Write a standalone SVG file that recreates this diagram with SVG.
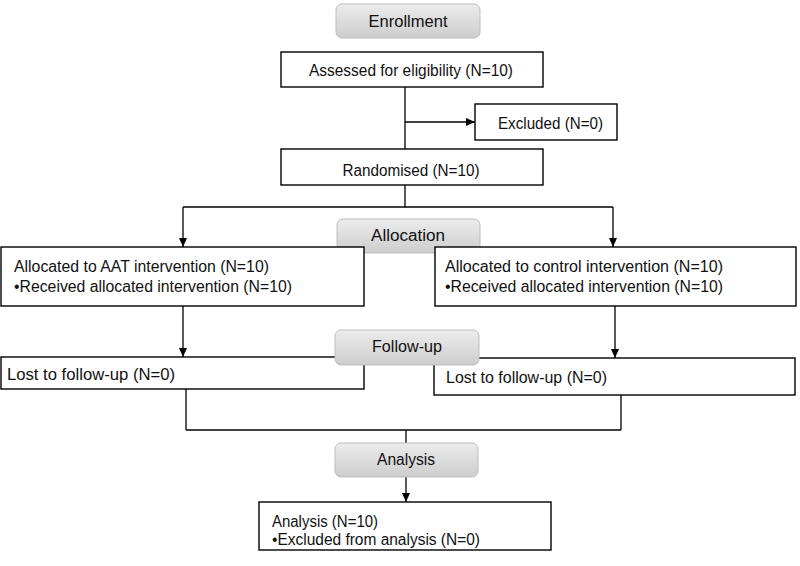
<svg xmlns="http://www.w3.org/2000/svg" width="800" height="566" viewBox="0 0 800 566">
<defs>
<linearGradient id="g" x1="0" y1="0" x2="0" y2="1">
<stop offset="0" stop-color="#ececec"/>
<stop offset="1" stop-color="#cdcdcd"/>
</linearGradient>
<marker id="arr" markerWidth="10" markerHeight="10" refX="9" refY="5" orient="auto" markerUnits="userSpaceOnUse">
<path d="M0,1 L9,5 L0,9 Z" fill="#000"/>
</marker>
<style>
.box{fill:#fff;stroke:#000;stroke-width:1.4}
.stage{fill:url(#g);stroke:#bdbdbd;stroke-width:1}
.t{font-family:"Liberation Sans",Arial,sans-serif;font-size:16px;fill:#111}
.c{text-anchor:middle}
.ln{stroke:#000;stroke-width:1.3;fill:none}
</style>
</defs>
<rect width="800" height="566" fill="#fff"/>
<g id="connectors">
<line class="ln" x1="405" y1="87" x2="405" y2="149"/>
<line class="ln" x1="405" y1="122" x2="475" y2="122" marker-end="url(#arr)"/>
<line class="ln" x1="405" y1="185" x2="405" y2="207"/>
<line class="ln" x1="183" y1="207" x2="613" y2="207"/>
<line class="ln" x1="183" y1="207" x2="183" y2="247" marker-end="url(#arr)"/>
<line class="ln" x1="613" y1="207" x2="613" y2="247" marker-end="url(#arr)"/>
<line class="ln" x1="183" y1="306" x2="183" y2="357" marker-end="url(#arr)"/>
<line class="ln" x1="615" y1="306" x2="615" y2="358" marker-end="url(#arr)"/>
<line class="ln" x1="186" y1="389" x2="186" y2="430"/>
<line class="ln" x1="621" y1="395" x2="621" y2="430"/>
<line class="ln" x1="186" y1="430" x2="621" y2="430"/>
<line class="ln" x1="406" y1="430" x2="406" y2="443"/>
<line class="ln" x1="406" y1="477" x2="406" y2="502" marker-end="url(#arr)"/>
</g>
<g id="enrollment">
<rect class="stage" x="336" y="4" width="144" height="34" rx="6"/>
<text class="t c" x="408" y="27" textLength="79" lengthAdjust="spacingAndGlyphs">Enrollment</text>
</g>
<g id="assessed">
<rect class="box" x="281" y="52" width="262" height="35"/>
<text class="t c" x="411" y="76" textLength="204" lengthAdjust="spacingAndGlyphs">Assessed for eligibility (N=10)</text>
</g>
<g id="excluded">
<rect class="box" x="475" y="104" width="142" height="36"/>
<text class="t" x="498" y="129" textLength="105" lengthAdjust="spacingAndGlyphs">Excluded (N=0)</text>
</g>
<g id="randomised">
<rect class="box" x="281" y="149" width="262" height="36"/>
<text class="t c" x="411" y="176" textLength="137" lengthAdjust="spacingAndGlyphs">Randomised (N=10)</text>
</g>
<g id="allocation">
<rect class="stage" x="337" y="219" width="143" height="34" rx="6"/>
<text class="t c" x="408" y="241" textLength="74" lengthAdjust="spacingAndGlyphs">Allocation</text>
</g>
<g id="aat">
<rect class="box" x="1" y="247" width="363" height="59"/>
<text class="t" x="14" y="272" textLength="255" lengthAdjust="spacingAndGlyphs">Allocated to AAT intervention (N=10)</text>
<text class="t" x="14" y="292" textLength="278" lengthAdjust="spacingAndGlyphs">•Received allocated intervention (N=10)</text>
</g>
<g id="control">
<rect class="box" x="435" y="247" width="361" height="59"/>
<text class="t" x="445" y="272" textLength="278" lengthAdjust="spacingAndGlyphs">Allocated to control intervention (N=10)</text>
<text class="t" x="445" y="292" textLength="278" lengthAdjust="spacingAndGlyphs">•Received allocated intervention (N=10)</text>
</g>
<g id="lost-left">
<rect class="box" x="1" y="357" width="363" height="32"/>
<text class="t" x="7" y="380" textLength="168" lengthAdjust="spacingAndGlyphs">Lost to follow-up (N=0)</text>
</g>
<g id="lost-right">
<rect class="box" x="434" y="358" width="361" height="37"/>
<text class="t" x="446" y="383" textLength="161" lengthAdjust="spacingAndGlyphs">Lost to follow-up (N=0)</text>
</g>
<g id="followup">
<rect class="stage" x="335" y="330" width="144" height="35" rx="6"/>
<text class="t c" x="407" y="352" textLength="70" lengthAdjust="spacingAndGlyphs">Follow-up</text>
</g>
<g id="analysis-stage">
<rect class="stage" x="335" y="443" width="143" height="34" rx="6"/>
<text class="t c" x="406" y="465" textLength="58" lengthAdjust="spacingAndGlyphs">Analysis</text>
</g>
<g id="analysis">
<rect class="box" x="259" y="502" width="292" height="48"/>
<text class="t" x="272" y="527" textLength="106" lengthAdjust="spacingAndGlyphs">Analysis (N=10)</text>
<text class="t" x="272" y="545" textLength="208" lengthAdjust="spacingAndGlyphs">•Excluded from analysis (N=0)</text>
</g>
</svg>
